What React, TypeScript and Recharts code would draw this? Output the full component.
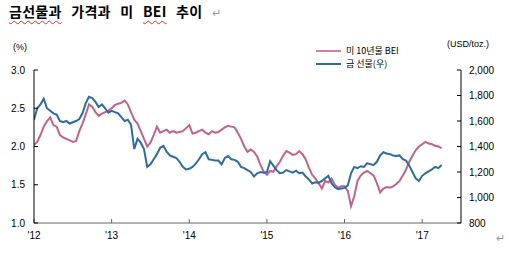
import React from 'react';
import { LineChart, Line, XAxis, YAxis } from 'recharts';

// 반월 간격 (1일, 16일) 값, 그림에서 읽은 추정치
const YEARS = [2012, 2013, 2014, 2015, 2016, 2017];
const POINTS_PER_YEAR = 24;

// 미 10년물 BEI (%)
const bei12 = [2.02, 2.06, 2.15, 2.26, 2.33, 2.38, 2.28, 2.26, 2.15, 2.12, 2.1, 2.08, 2.06, 2.07, 2.2, 2.3, 2.42, 2.55, 2.52, 2.45, 2.4, 2.43, 2.45, 2.47];
const bei13 = [2.5, 2.54, 2.56, 2.57, 2.6, 2.55, 2.45, 2.35, 2.3, 2.2, 2.1, 2.0, 2.05, 2.15, 2.26, 2.18, 2.2, 2.22, 2.18, 2.2, 2.18, 2.19, 2.2, 2.24];
const bei14 = [2.28, 2.17, 2.18, 2.2, 2.22, 2.18, 2.16, 2.2, 2.18, 2.19, 2.22, 2.25, 2.27, 2.26, 2.25, 2.18, 2.1, 2.0, 1.93, 1.96, 1.93, 1.87, 1.76, 1.67];
const bei15 = [1.63, 1.68, 1.67, 1.74, 1.8, 1.88, 1.94, 1.92, 1.89, 1.9, 1.94, 1.9, 1.83, 1.72, 1.63, 1.58, 1.52, 1.45, 1.55, 1.53, 1.58, 1.5, 1.46, 1.48];
const bei16 = [1.48, 1.42, 1.22, 1.35, 1.55, 1.62, 1.66, 1.68, 1.65, 1.62, 1.52, 1.4, 1.45, 1.47, 1.46, 1.48, 1.51, 1.55, 1.62, 1.7, 1.8, 1.88, 1.95, 2.0];
const bei17 = [2.03, 2.06, 2.04, 2.03, 2.01, 2.0, 1.98];

// 금 선물 (USD/toz.)
const gold12 = [1610, 1700, 1730, 1775, 1700, 1680, 1660, 1650, 1600, 1590, 1600, 1580, 1590, 1600, 1615, 1660, 1740, 1790, 1780, 1750, 1710, 1730, 1700, 1665];
const gold13 = [1680, 1670, 1660, 1630, 1600, 1610, 1570, 1380, 1460, 1430, 1380, 1240, 1260, 1300, 1340, 1390, 1405, 1360, 1330, 1320, 1310, 1280, 1240, 1220];
const gold14 = [1225, 1240, 1265, 1300, 1340, 1355, 1300, 1295, 1290, 1290, 1260, 1310, 1325, 1300, 1295, 1280, 1240, 1230, 1215, 1200, 1165, 1190, 1200, 1195];
const gold15 = [1200, 1285, 1250, 1215, 1190, 1195, 1215, 1205, 1195, 1210, 1190, 1195, 1165, 1140, 1110, 1120, 1115, 1130, 1150, 1170, 1110, 1080, 1065, 1070];
const gold16 = [1075, 1095, 1190, 1240, 1230, 1245, 1240, 1270, 1260, 1255, 1280, 1330, 1355, 1345, 1340, 1330, 1325, 1330, 1300, 1290, 1250, 1200, 1150, 1130];
const gold17 = [1170, 1190, 1205, 1220, 1240, 1230, 1255];

const beiSeries = [bei12, bei13, bei14, bei15, bei16, bei17];
const goldSeries = [gold12, gold13, gold14, gold15, gold16, gold17];

const xTicks = [2012, 2013, 2014, 2015, 2016, 2017];
const leftTicks = [1.0, 1.5, 2.0, 2.5, 3.0];
const rightTicks = [800, 1000, 1200, 1400, 1600, 1800, 2000];

const data = YEARS.flatMap((year, yi) =>
  beiSeries[yi].map((v, i) => ({
    t: year + i / POINTS_PER_YEAR,
    bei: v,
    gold: goldSeries[yi][i],
  }))
);

const PINK = '#c4628c';
const BLUE = '#2e6ba5';
const TICK_FONT = { fontSize: 10, fill: '#000', fontFamily: 'Liberation Sans, Arial, sans-serif' };
const KR_FONT = '"Noto Sans CJK KR", sans-serif';
const wavy = { textDecoration: 'underline wavy #e03030', textDecorationThickness: 1, textUnderlineOffset: 3 };

const Legend = () => (
  <div style={{ position: 'absolute', left: 316, top: 44, fontFamily: KR_FONT, fontSize: 9, color: '#000' }}>
    <div style={{ display: 'flex', alignItems: 'center', height: 13 }}>
      <div style={{ width: 25, height: 2, background: '#d3809f', marginRight: 5 }} />
      <span>미 10년물 BEI</span>
    </div>
    <div style={{ display: 'flex', alignItems: 'center', height: 13 }}>
      <div style={{ width: 25, height: 2, background: BLUE, marginRight: 5 }} />
      <span>금 선물(우)</span>
    </div>
  </div>
);

export default function App() {
  return (
    <div style={{ position: 'absolute', left: 0, top: 0, width: 508, height: 257, background: '#fff', overflow: 'hidden' }}>
      <div style={{ position: 'absolute', left: 9, top: 1, fontFamily: KR_FONT, fontWeight: 700, fontSize: 14, wordSpacing: 6, letterSpacing: 0.3, color: '#000', whiteSpace: 'pre' }}>
        <span style={wavy}>금선물과</span>
        {' 가격과 미 '}
        <span style={wavy}>BEI</span>
        {' 추이 '}
        <span style={{ fontWeight: 400, fontSize: 11, color: '#999' }}>↵</span>
      </div>
      <div style={{ position: 'absolute', left: 13, top: 42, fontFamily: 'Liberation Sans, Arial, sans-serif', fontSize: 9 }}>(%)</div>
      <div style={{ position: 'absolute', left: 447, top: 39, fontFamily: 'Liberation Sans, Arial, sans-serif', fontSize: 9 }}>(USD/toz.)</div>
      <div style={{ position: 'absolute', left: 496, top: 232, fontSize: 11, color: '#999' }}>↵</div>
      <Legend />
      <LineChart width={508} height={257} data={data} margin={{ top: 70, right: 0, bottom: 0, left: 0 }}>
        <XAxis
          dataKey="t"
          type="number"
          domain={[2012, 2017.5]}
          ticks={xTicks}
          tickFormatter={(v: number) => `'${String(v).slice(2)}`}
          height={34}
          tickSize={-4}
          tickMargin={13}
          axisLine={{ stroke: '#666' }}
          tickLine={{ stroke: '#666' }}
          tick={TICK_FONT}
          allowDataOverflow
        />
        <YAxis
          yAxisId="left"
          domain={[1, 3]}
          ticks={leftTicks}
          tickFormatter={(v: number) => v.toFixed(1)}
          width={34}
          tickSize={-4}
          tickMargin={13}
          axisLine={{ stroke: '#000' }}
          tickLine={{ stroke: '#000' }}
          tick={TICK_FONT}
          allowDataOverflow
        />
        <YAxis
          yAxisId="right"
          orientation="right"
          domain={[800, 2000]}
          ticks={rightTicks}
          tickFormatter={(v: number) => v.toLocaleString('en-US')}
          width={47}
          tickSize={-4}
          tickMargin={12}
          axisLine={{ stroke: '#000' }}
          tickLine={{ stroke: '#000' }}
          tick={TICK_FONT}
          allowDataOverflow
        />
        <Line yAxisId="left" type="linear" dataKey="bei" stroke={PINK} strokeWidth={2} dot={false} isAnimationActive={false} />
        <Line yAxisId="right" type="linear" dataKey="gold" stroke={BLUE} strokeWidth={2} dot={false} isAnimationActive={false} />
      </LineChart>
    </div>
  );
}
